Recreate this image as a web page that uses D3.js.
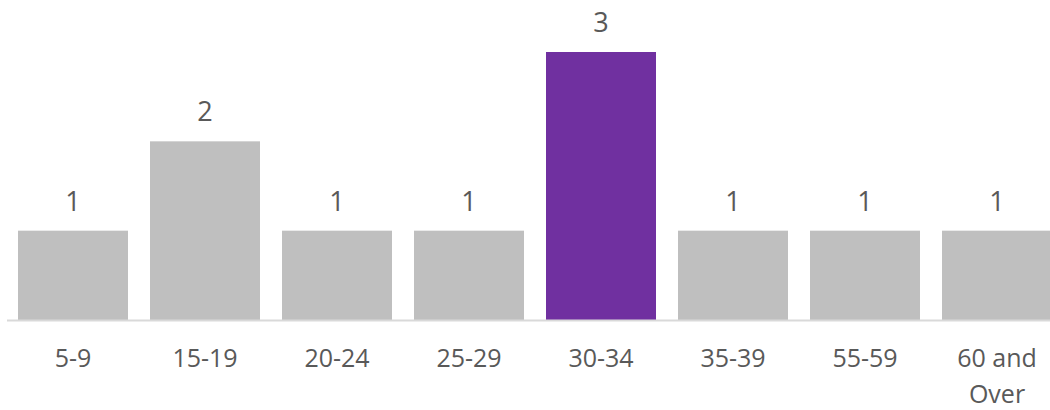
<!doctype html>
<html>
	<head>
		<style>
			body{ margin: 0; background: #fff; }
			#chart text{ font-family: "Open Sans", sans-serif; fill: #595959; }
		</style>
	</head>
	<body>
		<svg id=chart></svg>

		<script src="https://d3js.org/d3.v7.min.js"></script>
		<script>
			var categories = ["5-9", "15-19", "20-24", "25-29", "30-34", "35-39", "55-59", "60 and Over"];
			var counts = [1, 2, 1, 1, 3, 1, 1, 1];
			var highlight = "30-34";

			var width = 1050, height = 410,
				baseline = 320;

			var chart = d3.select("#chart")
				.attr("width", width)
				.attr("height", height);

			var x = d3.scaleBand()
				.domain(categories)
				.range([7, 1063])
				.paddingInner(1 / 6)
				.paddingOuter(1 / 12);

			var y = d3.scaleLinear()
				.domain([0, 3])//counts
				.range([baseline, 52]);//pixels

			var bar = chart.selectAll("g.bar")
				.data(categories)
				.enter().append("g")
					.attr("class", "bar");

			bar.append("rect")
				.attr("x", function(d) { return x(d); })
				.attr("y", function(d, i) { return y(counts[i]); })
				.attr("width", x.bandwidth())
				.attr("height", function(d, i) { return baseline - y(counts[i]); })
				.attr("fill", function(d) { return d == highlight ? "#7030A0" : "#BFBFBF"; });

			bar.append("text")
				.attr("x", function(d) { return x(d) + x.bandwidth() / 2; })
				.attr("y", function(d, i) { return y(counts[i]) - 20; })
				.attr("text-anchor", "middle")
				.attr("font-size", 27)
				.text(function(d, i) { return counts[i]; });

			// axis line
			chart.append("line")
				.attr("x1", 7).attr("x2", width)
				.attr("y1", baseline + 0.5).attr("y2", baseline + 0.5)
				.attr("stroke", "#D9D9D9")
				.attr("stroke-width", 2);

			// category labels, wrapped like excel does
			var label = chart.selectAll("text.cat")
				.data(categories)
				.enter().append("text")
					.attr("class", "cat")
					.attr("text-anchor", "middle")
					.attr("font-size", 25)
					.attr("transform", function(d) { return "translate(" + (x(d) + x.bandwidth() / 2) + ", 367)"; });
			label.each(function(d) {
				var lines = d.length > 8 ? ["60 and", "Over"] : [d];
				d3.select(this).selectAll("tspan")
					.data(lines)
					.enter().append("tspan")
						.attr("x", 0)
						.attr("dy", function(l, i) { return i ? 36 : 0; })
						.text(function(l) { return l; });
			});
		</script>
	</body>
</html>
